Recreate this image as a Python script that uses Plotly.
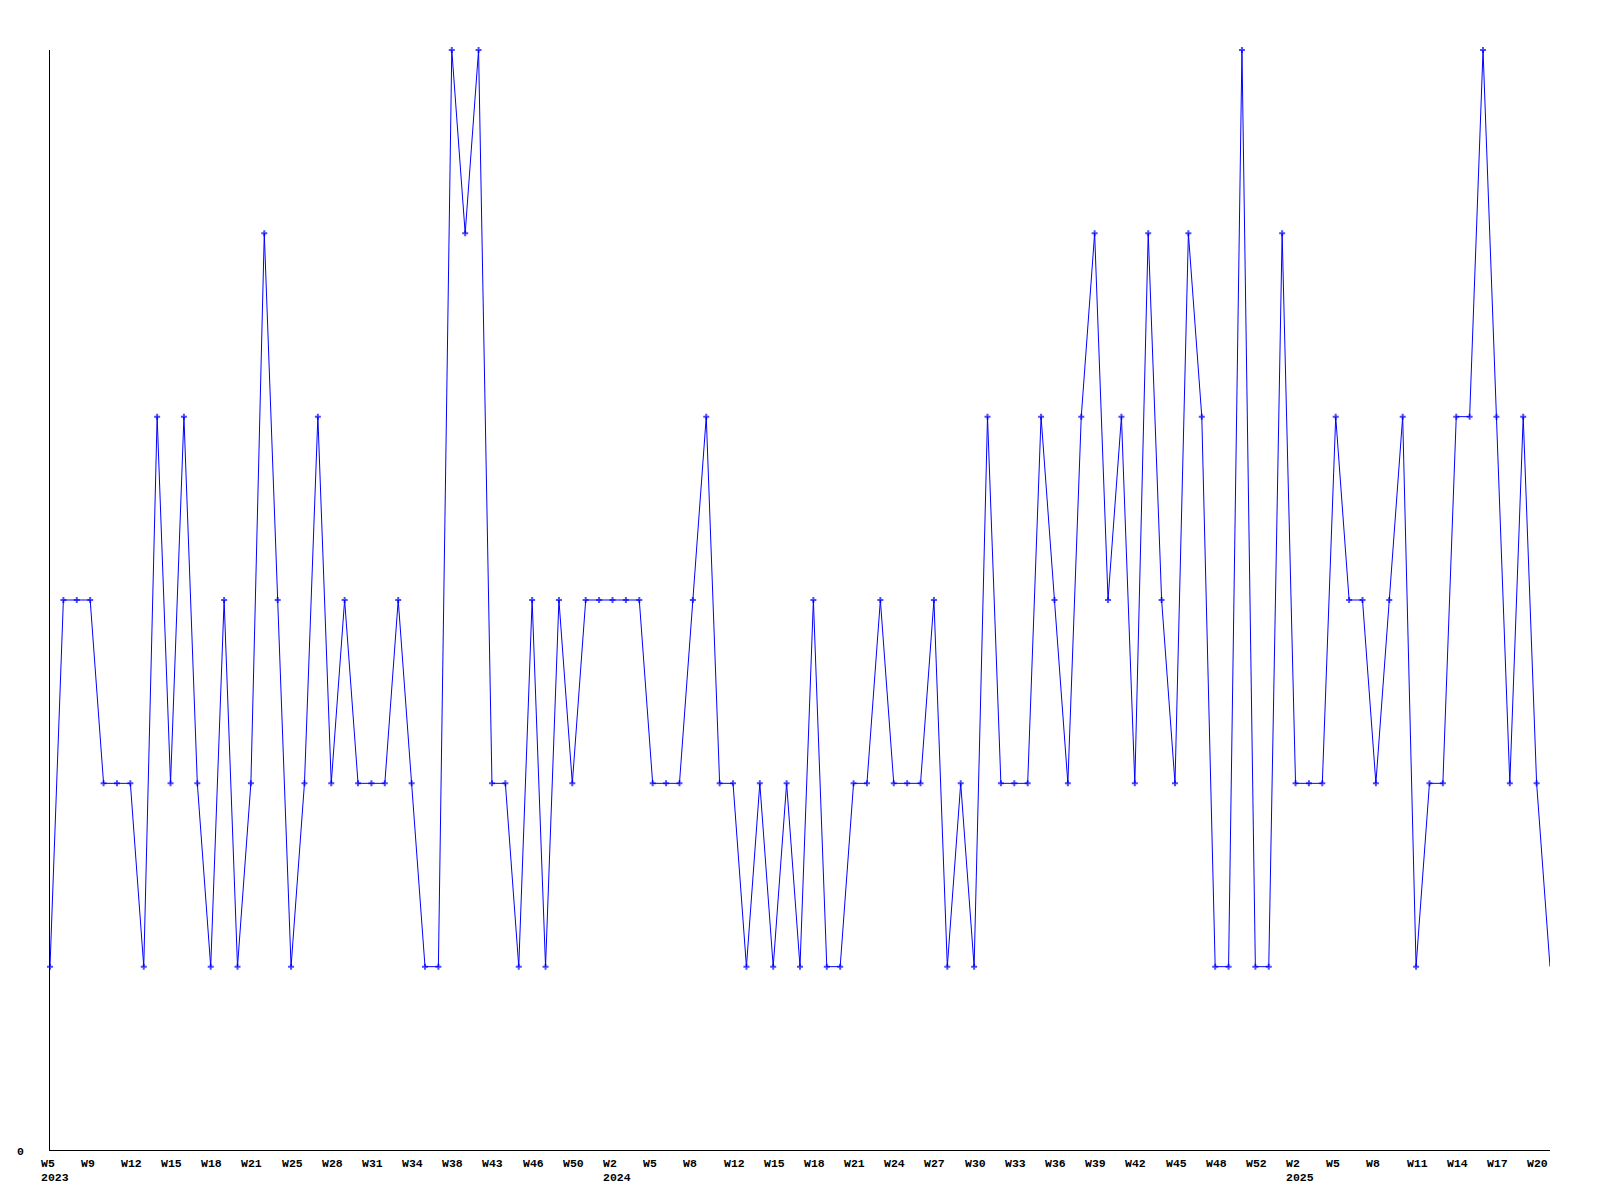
import plotly.graph_objects as go

# Weekly values, in order of the categories on the x axis (2023 W5 ... 2025 W21)
values = [
    1, 3, 3, 3, 2, 2, 2, 1, 4, 2,
    4, 2, 1, 3, 1, 2, 5, 3, 1, 2,
    4, 2, 3, 2, 2, 2, 3, 2, 1, 1,
    6, 5, 6, 2, 2, 1, 3, 1, 3, 2,
    3, 3, 3, 3, 3, 2, 2, 2, 3, 4,
    2, 2, 1, 2, 1, 2, 1, 3, 1, 1,
    2, 2, 3, 2, 2, 2, 3, 1, 2, 1,
    4, 2, 2, 2, 4, 3, 2, 4, 5, 3,
    4, 2, 5, 3, 2, 5, 4, 1, 1, 6,
    1, 1, 5, 2, 2, 2, 4, 3, 3, 2,
    3, 4, 1, 2, 2, 4, 4, 6, 4, 2,
    4, 2, 1,
]

# Tick labels: one every 3rd category
tick_step = 3
week_labels = [
    "W5", "W9", "W12", "W15", "W18", "W21", "W25", "W28", "W31", "W34",
    "W38", "W43", "W46", "W50",
    "W2", "W5", "W8", "W12", "W15", "W18", "W21", "W24", "W27", "W30",
    "W33", "W36", "W39", "W42", "W45", "W48", "W52",
    "W2", "W5", "W8", "W11", "W14", "W17", "W20",
]
year_labels = ["2023", "2024", "2025"]
year_label_ticks = [0, 14, 31]  # which tick label each year sits under

y_max = 6
y_tick_labels = ["0"]

BLUE = "#0000ff"
FONT = dict(family="Liberation Mono, DejaVu Sans Mono, monospace", size=11.5,
            color="black", weight="bold")

n = len(values)
x = list(range(n))

fig = go.Figure(
    go.Scatter(
        x=x,
        y=values,
        mode="lines+markers",
        line=dict(color=BLUE, width=1),
        marker=dict(symbol="cross", size=[5] * (n - 1) + [0], color=BLUE,
                    line=dict(width=0)),
        cliponaxis=False,
        hoverinfo="skip",
        showlegend=False,
    )
)

annotations = []
for i, lab in enumerate(week_labels):
    annotations.append(dict(
        x=i * tick_step, xref="x", y=0, yref="paper",
        text=lab, showarrow=False, xanchor="left", yanchor="middle",
        align="left", xshift=-10.5, yshift=-13, borderpad=0, font=FONT,
    ))
for lab, t in zip(year_labels, year_label_ticks):
    annotations.append(dict(
        x=t * tick_step, xref="x", y=0, yref="paper",
        text=lab, showarrow=False, xanchor="left", yanchor="middle",
        align="left", xshift=-10.5, yshift=-27, borderpad=0, font=FONT,
    ))
annotations.append(dict(
    x=0, xref="paper", y=0, yref="paper", text=y_tick_labels[0],
    showarrow=False, xanchor="right", yanchor="middle",
    xshift=-25.5, yshift=-1, borderpad=0, font=FONT,
))

axis_common = dict(
    showgrid=False, zeroline=False, showline=True, linecolor="black",
    linewidth=1, ticks="", showticklabels=False, fixedrange=True,
)

fig.update_layout(
    width=1600,
    height=1200,
    margin=dict(l=50, r=50, t=50, b=50, pad=0),
    paper_bgcolor="white",
    plot_bgcolor="white",
    xaxis=dict(range=[0, n - 1], **axis_common),
    yaxis=dict(range=[0, y_max], **axis_common),
    annotations=annotations,
)

fig.write_html(
    "out.html",
    config={"displayModeBar": False},
    post_script="document.body.style.margin='0';document.body.style.overflow='hidden';",
)
